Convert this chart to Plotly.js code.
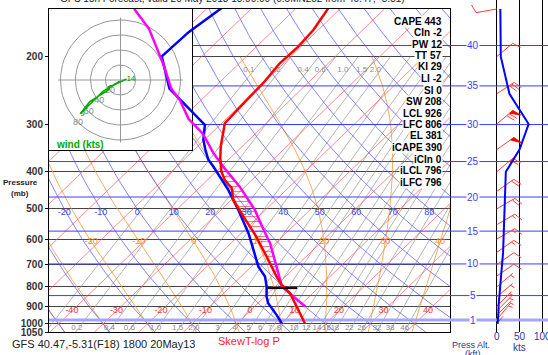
<!DOCTYPE html>
<html>
<head>
<meta charset="utf-8">
<script src="https://cdn.plot.ly/plotly-3.0.1.min.js"></script>
<style>html,body{margin:0;padding:0;background:#fff;}#chart{width:548px;height:355px;}</style>
</head>
<body>
<div id="chart"></div>
<script>
// ===== sounding data =====
const tempP = [995.8, 919.2, 831.3, 790.6, 752.0, 666.5, 584.8, 523.8, 473.7, 441.6, 420.3, 399.6, 368.4, 343.4, 310.6, 298.5, 259.6, 234.9, 208.0, 188.2, 170.0, 149.1];
const tempC = [15.2, 10.6, 4.9, 1.1, -2.0, -8.9, -16.5, -23.4, -29.6, -32.6, -36.1, -38.8, -42.2, -44.8, -48.1, -49.3, -49.8, -50.0, -50.9, -50.6, -51.1, -52.8];
const dewP = [995.8, 947.2, 882.6, 848.2, 798.7, 752.0, 708.2, 640.3, 579.0, 503.2, 446.2, 387.6, 372.0, 350.2, 329.6, 301.4, 273.2, 249.8, 242.3, 199.6, 172.2, 149.1];
const dewC = [10.0, 6.9, 2.3, 0.4, -1.9, -4.6, -8.4, -13.4, -18.4, -26.1, -33.0, -41.8, -44.5, -47.5, -50.3, -53.4, -60.7, -67.5, -69.8, -79.0, -78.6, -76.8];
const parcelP = [900.7, 848.2, 798.7, 736.7, 615.2, 567.3, 503.2, 437.4, 387.6, 357.5, 317.9, 291.0, 259.6, 242.3, 210.9, 169.0, 149.8];
const parcelC = [11.4, 6.4, 1.5, -2.4, -11.2, -15.8, -22.4, -31.2, -39.6, -44.9, -51.8, -58.4, -64.8, -69.4, -76.4, -88.3, -96.3];
const lfcMarkT = [-1.4, 5.3];

// winds
const windP = [1000, 975, 950, 925, 900, 850, 800, 750, 700, 650, 600, 550, 500, 450, 400, 350, 300, 250, 200, 150];
const windDir = [40, 40, 45, 45, 45, 50, 50, 55, 55, 55, 60, 60, 60, 55, 50, 55, 50, 57, 50, 260];
const windSpd = [2, 3, 3, 4, 4, 6, 7, 9, 12, 14, 15, 16, 18, 18, 20, 50, 70, 28, 9, 8];
const hodoLabelP = [300, 150];
const hodoLabelText = ['9', '14'];

// indices
const idxNames = ['CAPE','CIn','PW','TT','KI','LI','SI','SW','LCL','LFC','EL','iCAPE','iCIn','iLCL','iLFC'];
const idxValues = ['443','-2','12','57','29','-2','0','208','926','806','381','390','0','796','796'];

// axis / grid labels
const pressTicks = [200, 300, 400, 500, 600, 700, 800, 900, 1000, 1050];
const altKft = [1, 5, 10, 15, 20, 25, 30, 35, 40];
const isoLabels = [-40, -30, -20, -10, 0, 10, 20, 30, 40];
const thetaLabels = [-20, -10, 0, 10, 20, 30, 40, 50, 60, 70, 80];
const thetaWLabels = [-20, -10, 0, 10, 20, 30, 40];
const mixRatios = [0.1, 0.2, 0.4, 0.6, 1, 1.5, 2, 3, 4, 5, 6, 7, 8, 10, 12, 14, 16, 18, 22, 26, 32, 38, 46];
const mixText = ['0.1','0.2','0.4','0.6','1.0','1.5','2.0','3','4','5','6','7','8','10','12','14','16','18','22','26','32','38','46'];
const hodoRings = [20, 40, 60, 80];
const speedTicks = [0, 50, 100];

// ===== geometry =====
const W = 548, H = 355;
const L = 49, R = 450, T = 9, B = 332;
const pTop = 150, pBot = 1050;
const FONT = 'Liberation Sans, Arial, sans-serif';
const pxPerDec = (B - T) / (Math.log10(pBot) - Math.log10(pTop));
const pxPerC = 4.45;
const K = pxPerDec * 1.035 / pxPerC;
const X0 = 236.5;
const xMain = [(L - X0) / pxPerC, (R - X0) / pxPerC];
const skewX = (t, p) => t + K * Math.log10(1000 / p);

const hodoScale = 0.75, hcx = 120.5, hcy = 80, hodoR = 192, hodoB = 150;
const x2Range = [(L - hcx) / hodoScale, (hodoR - hcx) / hodoScale];
const y2Range = [-(hodoB - hcy) / hodoScale, (hcy - T) / hodoScale];

const x4Range = [(R - 496.7) / 0.456, (W - 496.7) / 0.456];
const pxPerKt = (W - R) / (x4Range[1] - x4Range[0]);
const y4Range = [Math.log10(pBot), Math.log10(pTop) - T / pxPerDec];

// ===== background diagram =====
function pushSeg(xs, ys, ax, ay) { for (let i = 0; i < xs.length; i++) { ax.push(xs[i]); ay.push(ys[i]); } ax.push(null); ay.push(null); }
const isoX = [], isoY = [];
for (let t = -130; t <= 50; t += 10) pushSeg([skewX(t, pBot), skewX(t, pTop)], [pBot, pTop], isoX, isoY);
const dryX = [], dryY = [];
const dryT = (th, p) => (th + 273.15) * Math.pow(p / 1000, 0.2857) - 273.15;
for (let th = -40; th <= 200; th += 10) {
  const xs = [], ys = [];
  for (let p = pBot; p >= pTop; p -= 25) { xs.push(skewX(dryT(th, p), p)); ys.push(p); }
  pushSeg(xs, ys, dryX, dryY);
}
function lapse(p, tk) {
  const tc = tk - 273.15, es = 6.112 * Math.exp(17.67 * tc / (tc + 243.5));
  const rs = 0.622 * es / (p - es), Lv = 2.501e6, Rd = 287.04, cp = 1005.7;
  return (Rd * tk + Lv * rs) / (cp + Lv * Lv * rs * 0.622 / (Rd * tk * tk)) / p;
}
function moistCurve(thw) {
  let tk = thw + 273.15; const up = [[1000, tk]];
  for (let p = 1000; p > 200; p -= 5) { const h = -5, k1 = lapse(p, tk), k2 = lapse(p + h, tk + h * k1); tk += h * (k1 + k2) / 2; up.push([p + h, tk]); }
  tk = thw + 273.15; const down = [];
  for (let p = 1000; p < 1050; p += 5) { const h = 5, k1 = lapse(p, tk), k2 = lapse(p + h, tk + h * k1); tk += h * (k1 + k2) / 2; down.push([p + h, tk]); }
  return down.reverse().concat(up);
}
const moistX = [], moistY = [], moistLabX = [], moistLabY = [], moistLabT = [];
for (let thw = -40; thw <= 50; thw += 10) {
  const c = moistCurve(thw);
  pushSeg(c.map(d => skewX(d[1] - 273.15, d[0])), c.map(d => d[0]), moistX, moistY);
  if (thetaWLabels.includes(thw)) {
    const pt = c.find(d => Math.abs(d[0] - 610) < 0.1);
    moistLabX.push(skewX(pt[1] - 273.15, 610)); moistLabY.push(610); moistLabT.push(String(thw));
  }
}
const tdFromW = (w, p) => { const e = w * p / (622 + w), l = Math.log(e / 6.112); return 243.5 * l / (17.67 - l); };
const mixX = [], mixY = [];
mixRatios.forEach(w => {
  const xs = [], ys = [];
  for (let p = pBot; p >= 200; p -= 25) { xs.push(skewX(tdFromW(w, p), p)); ys.push(p); }
  pushSeg(xs, ys, mixX, mixY);
});
const altP = altKft.map(k => 1013.25 * Math.pow(1 - 6.8756e-6 * k * 1000, 5.2559));

const traces = [];
const lineT = (x, y, color, width, xa, ya, extra) => Object.assign({type: 'scatter', mode: 'lines', x: x, y: y, xaxis: xa, yaxis: ya, line: {color: color, width: width}, hoverinfo: 'skip', connectgaps: false}, extra || {});
const textT = (x, y, t, color, size, xa, ya, pos) => ({type: 'scatter', mode: 'text', x: x, y: y, text: t, textposition: pos || 'middle center', textfont: {family: FONT, size: size, color: color}, xaxis: xa, yaxis: ya, hoverinfo: 'skip'});

// main subplot
traces.push(lineT(mixX, mixY, 'rgb(150,150,150)', 0.7, 'x', 'y'));
traces.push(lineT(moistX, moistY, 'rgb(255,150,50)', 0.8, 'x', 'y'));
traces.push(lineT(dryX, dryY, 'rgb(80,80,255)', 0.7, 'x', 'y'));
traces.push(lineT(isoX, isoY, 'rgb(255,90,90)', 0.7, 'x', 'y'));
const altMX = [], altMY = [];
altKft.forEach((k, i) => { if (k !== 1) pushSeg(xMain, [altP[i], altP[i]], altMX, altMY); });
traces.push(lineT(altMX, altMY, 'rgb(60,60,255)', 1, 'x', 'y'));
traces.push(lineT(xMain, [altP[0], altP[0]], 'rgb(165,165,255)', 3, 'x', 'y'));
traces.push(textT(isoLabels.map(t => skewX(t, 925)), isoLabels.map(() => 925), isoLabels.map(String), 'rgb(255,50,50)', 9, 'x', 'y'));
traces.push(textT(thetaLabels.map(th => skewX(dryT(th, 500), 500)), thetaLabels.map(() => 512), thetaLabels.map(String), 'rgb(60,60,255)', 9, 'x', 'y'));
traces.push(textT(moistLabX, moistLabY, moistLabT, 'rgb(255,140,30)', 9, 'x', 'y'));
const mixBot = mixRatios.map((w, i) => i).filter(i => mixRatios[i] >= 0.2);
traces.push(textT(mixBot.map(i => skewX(tdFromW(mixRatios[i], 1024), 1024) - 0.4), mixBot.map(() => 1024), mixBot.map(i => mixText[i]), 'rgb(140,140,140)', 8, 'x', 'y'));
const mixTop = mixRatios.map((w, i) => i).filter(i => mixRatios[i] <= 2);
traces.push(textT(mixTop.map(i => skewX(tdFromW(mixRatios[i], 216), 216)), mixTop.map(() => 216), mixTop.map(i => mixText[i]), 'rgb(140,140,140)', 8, 'x', 'y', 'middle left'));

// hodograph inset
traces.push(lineT([x2Range[0], x2Range[1], x2Range[1], x2Range[0], x2Range[0]], [y2Range[0], y2Range[0], y2Range[1], y2Range[1], y2Range[0]], 'rgba(0,0,0,0)', 0, 'x2', 'y2', {fill: 'toself', fillcolor: '#ffffff'}));
const ringX = [], ringY = [];
hodoRings.forEach(r => { const xs = [], ys = []; for (let a = 0; a <= 360; a += 5) { xs.push(r * Math.cos(a * Math.PI / 180)); ys.push(r * Math.sin(a * Math.PI / 180)); } pushSeg(xs, ys, ringX, ringY); });
const cr = hodoRings[hodoRings.length - 1] * 1.04;
pushSeg([-cr, cr], [0, 0], ringX, ringY); pushSeg([0, 0], [-cr, cr], ringX, ringY);
traces.push(lineT(ringX, ringY, 'rgb(150,150,150)', 1, 'x2', 'y2'));
traces.push(textT(hodoRings.map(r => -r * 0.707), hodoRings.map(r => -r * 0.707), hodoRings.map(String), 'rgb(140,140,140)', 9, 'x2', 'y2'));
const hu = windP.map((p, i) => -windSpd[i] * Math.sin(windDir[i] * Math.PI / 180));
const hv = windP.map((p, i) => -windSpd[i] * Math.cos(windDir[i] * Math.PI / 180));
traces.push(lineT(hu, hv, 'rgb(0,170,0)', 1.5, 'x2', 'y2'));
const hl = hodoLabelP.map(p => windP.indexOf(p));
traces.push(textT(hl.map(i => hu[i]), hl.map(i => hv[i]), hodoLabelText, 'rgb(0,150,0)', 8, 'x2', 'y2', 'middle right'));

// sounding overlay
const lfcP = +idxValues[idxNames.indexOf('LFC')], elP = +idxValues[idxNames.indexOf('EL')];
const capeX = [], capeY = [];
parcelP.forEach((p, i) => { if (p <= lfcP && p >= elP) { capeX.push(skewX(parcelC[i], p)); capeY.push(p); } });
for (let i = tempP.length - 1; i >= 0; i--) { const p = tempP[i]; if (p <= lfcP && p >= elP) { capeX.push(skewX(tempC[i], p)); capeY.push(p); } }
traces.push(lineT(capeX, capeY, 'rgba(0,0,0,0)', 0, 'x3', 'y3', {fill: 'toself', fillcolor: 'rgba(0,0,0,0)', fillpattern: {shape: '-', fgcolor: 'rgb(255,0,0)', bgcolor: 'rgba(0,0,0,0)', size: 5, solidity: 0.22, fillmode: 'overlay'}}));
traces.push(lineT(dewC.map((t, i) => skewX(t, dewP[i])), dewP, 'rgb(0,0,255)', 2.5, 'x3', 'y3'));
traces.push(lineT(parcelC.map((t, i) => skewX(t, parcelP[i])), parcelP, 'rgb(255,0,255)', 2.5, 'x3', 'y3'));
traces.push(lineT(tempC.map((t, i) => skewX(t, tempP[i])), tempP, 'rgb(255,0,0)', 2.5, 'x3', 'y3'));
traces.push(lineT(lfcMarkT.map(t => skewX(t, lfcP)), [lfcP, lfcP], 'rgb(0,0,0)', 2, 'x3', 'y3'));

// right panel
const altRX = [], altRY = [];
altKft.forEach((k, i) => { if (k !== 1) pushSeg(x4Range, [altP[i], altP[i]], altRX, altRY); });
traces.push(lineT(altRX, altRY, 'rgb(60,60,255)', 1, 'x4', 'y4'));
traces.push(lineT(x4Range, [altP[0], altP[0]], 'rgb(165,165,255)', 3, 'x4', 'y4'));
const off = (p, dx, dy) => [dx / pxPerKt, p * Math.pow(10, dy / pxPerDec)];
const bX = [], bY = [], fX = [], fY = [];
windP.forEach((p, i) => {
  const d = windDir[i] * Math.PI / 180, r = Math.round(windSpd[i] / 5) * 5;
  const s = [Math.sin(d), -Math.cos(d)], q = [-s[1], s[0]];
  const f = [0.35 * s[0] + 0.94 * q[0], 0.35 * s[1] + 0.94 * q[1]];
  const Ls = r >= 5 ? 21 : 10, Lf = 9;
  const tip = [s[0] * Ls, s[1] * Ls];
  const add = (pts, ax, ay) => { const xs = [], ys = []; pts.forEach(pt => { const o = off(p, pt[0], pt[1]); xs.push(o[0]); ys.push(o[1]); }); pushSeg(xs, ys, ax, ay); };
  add([[0, 0], tip], bX, bY);
  const n50 = Math.floor(r / 50), rem = r - 50 * n50, n10 = Math.floor(rem / 10), n5 = rem % 10 >= 5;
  let pos = 0;
  const at = k => [tip[0] - s[0] * k, tip[1] - s[1] * k];
  for (let k = 0; k < n50; k++) { const a = at(pos), b = at(pos + 4); add([a, [a[0] + f[0] * Lf, a[1] + f[1] * Lf], b, a], fX, fY); pos += 5; }
  for (let k = 0; k < n10; k++) { const a = at(pos); add([a, [a[0] + f[0] * Lf, a[1] + f[1] * Lf]], bX, bY); pos += 3; }
  if (n5) { if (n50 === 0 && n10 === 0) pos = 3; const a = at(pos); add([a, [a[0] + f[0] * Lf / 2, a[1] + f[1] * Lf / 2]], bX, bY); }
});
traces.push(lineT(bX, bY, 'rgb(255,60,60)', 1, 'x4', 'y4'));
traces.push(lineT(fX, fY, 'rgb(255,0,0)', 1, 'x4', 'y4', {fill: 'toself', fillcolor: 'rgb(255,0,0)'}));
traces.push(lineT(windSpd, windP, 'rgb(0,0,255)', 2, 'x4', 'y4'));

// ===== annotations =====
const ann = [];
const pxA = (x, y, text, opts) => ann.push(Object.assign({xref: 'paper', yref: 'paper', x: x / W, y: 1 - y / H, text: text, showarrow: false, font: {family: FONT, size: 10, color: '#000'}, xanchor: 'center', yanchor: 'middle'}, opts || {}));
idxNames.forEach((n, i) => pxA(443, 21 + 11.5 * i, '<b>' + n + ' ' + idxValues[i] + '</b>', {xanchor: 'right', bgcolor: '#ffffff', borderpad: 0}));
pxA(58, -1.5, 'GFS 18h Forecast, valid 20 May 2013 18:00:00 (0.5MN252 from 40.47, -5.31)', {xanchor: 'left', font: {family: FONT, size: 10, color: '#222'}});
pxA(10, 344, 'GFS 40.47,-5.31(F18) 1800 20May13', {xanchor: 'left', font: {family: FONT, size: 11, color: '#222'}});
pxA(249, 341, 'SkewT-log P', {font: {family: FONT, size: 11, color: 'rgb(255,30,30)'}});
pxA(20, 182, '<b>Pressure</b>', {font: {family: FONT, size: 8, color: '#222'}});
pxA(20, 193, '<b>(mb)</b>', {font: {family: FONT, size: 8, color: '#222'}});
pxA(80, 144, '<b>wind (kts)</b>', {font: {family: FONT, size: 10, color: 'rgb(0,170,0)'}});
pxA(519, 347, 'kts', {font: {family: FONT, size: 10, color: '#33339a'}});
pxA(471, 345, 'Press Alt.', {font: {family: FONT, size: 9, color: '#33339a'}});
pxA(473, 354, '(kft)', {font: {family: FONT, size: 9, color: '#33339a'}});
altKft.forEach((k, i) => ann.push({xref: 'paper', yref: 'y4', x: 473 / W, y: Math.log10(altP[i]), text: String(k), showarrow: false, font: {family: FONT, size: 10, color: 'rgb(60,60,255)'}, bgcolor: '#ffffff', borderpad: 0, xanchor: 'center', yanchor: 'middle'}));

const dom = {x: [L / W, R / W], y: [1 - B / H, 1 - T / H]};
const hid = {visible: false, showgrid: false, zeroline: false};
const layout = {
  width: W, height: H, margin: {l: 0, r: 0, t: 0, b: 0}, autosize: false, showlegend: false,
  paper_bgcolor: '#ffffff', plot_bgcolor: 'rgba(0,0,0,0)', font: {family: FONT},
  xaxis: {domain: dom.x, range: xMain, anchor: 'y', showticklabels: false, ticks: '', showgrid: false, zeroline: false, showline: true, mirror: true, linecolor: '#000', linewidth: 1},
  yaxis: {domain: dom.y, type: 'log', range: [Math.log10(pBot), Math.log10(pTop)], anchor: 'x', tickmode: 'array', tickvals: pressTicks, ticktext: pressTicks.map(v => '<b>' + v + '</b>'), tickfont: {family: FONT, size: 10, color: '#333'}, ticks: 'outside', ticklen: 3, tickcolor: '#000', showgrid: true, gridcolor: '#444', gridwidth: 1, zeroline: false, showline: true, mirror: true, linecolor: '#000', linewidth: 1},
  xaxis2: {domain: [L / W, hodoR / W], range: x2Range, anchor: 'y2', showticklabels: false, ticks: '', showgrid: false, zeroline: false, showline: true, mirror: true, linecolor: '#000', linewidth: 1},
  yaxis2: {domain: [1 - hodoB / H, 1 - T / H], range: y2Range, anchor: 'x2', showticklabels: false, ticks: '', showgrid: false, zeroline: false, showline: true, mirror: true, linecolor: '#000', linewidth: 1},
  xaxis3: Object.assign({domain: dom.x, range: xMain, anchor: 'y3'}, hid),
  yaxis3: Object.assign({domain: dom.y, type: 'log', range: [Math.log10(pBot), Math.log10(pTop)], anchor: 'x3'}, hid),
  xaxis4: {domain: [R / W, 1], range: x4Range, anchor: 'y4', tickmode: 'array', tickvals: speedTicks, ticktext: speedTicks.map(String), tickfont: {family: FONT, size: 10, color: '#33339a'}, ticks: '', ticklabelstandoff: -3, ticklabeloverflow: 'allow', showgrid: true, gridcolor: '#000', gridwidth: 1, zeroline: false, showline: false},
  yaxis4: Object.assign({domain: [1 - B / H, 1], type: 'log', range: y4Range, anchor: 'x4'}, hid),
  annotations: ann
};
Plotly.newPlot('chart', traces, layout, {staticPlot: true, displayModeBar: false});
</script>
</body>
</html>
